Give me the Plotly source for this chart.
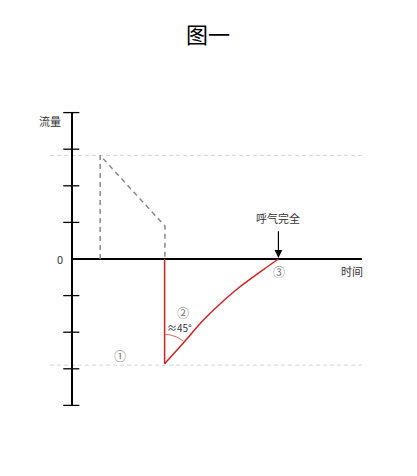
import numpy as np
import plotly.graph_objects as go

# chart values (flow vs time, arbitrary units)
y_ticks = [-4, -3, -2, -1, 1, 2, 3, 4]
x_axis_end = 7.92

# inspiration (grey dashed)
insp_x = [0.77, 0.77, 2.54, 2.54]
insp_y = [0, 2.83, 0.9, 0]

# expiration (red): drop to peak, then decay back to zero
exp_drop_x = [2.53, 2.53]
exp_drop_y = [0, -2.86]
exp_x = [2.53, 3.09, 3.54, 4.00, 4.54, 5.16, 5.64]
exp_y = [-2.86, -2.24, -1.72, -1.27, -0.80, -0.34, 0]

peak_in = 2.83
peak_out = -2.9

# page has an 8px body margin, so the figure is 16px smaller than the window
s = 36.6
W, H = 401, 460
x0_px, y0_px = 64, 251

fig = go.Figure()

# light guide lines at the peaks
for yv in [peak_in, peak_out]:
    fig.add_trace(go.Scatter(x=[-0.6, x_axis_end], y=[yv, yv], mode="lines",
                             line=dict(color="#d3d3d3", width=1, dash="4px,3px"),
                             hoverinfo="skip"))

# axes
fig.add_trace(go.Scatter(x=[0, 0], y=[-4, 4], mode="lines",
                         line=dict(color="black", width=2), hoverinfo="skip"))
for t in y_ticks:
    fig.add_trace(go.Scatter(x=[-0.24, 0.2], y=[t, t], mode="lines",
                             line=dict(color="black", width=1.3), hoverinfo="skip"))
fig.add_trace(go.Scatter(x=[0, x_axis_end], y=[0, 0], mode="lines",
                         line=dict(color="black", width=2), hoverinfo="skip"))

# inspiration dashed
fig.add_trace(go.Scatter(x=insp_x, y=insp_y, mode="lines",
                         line=dict(color="#888888", width=1.5, dash="5px,4px"),
                         hoverinfo="skip"))

# expiration red
fig.add_trace(go.Scatter(x=exp_drop_x, y=exp_drop_y, mode="lines",
                         line=dict(color="#d42020", width=1.5), hoverinfo="skip"))
fig.add_trace(go.Scatter(x=exp_x, y=exp_y, mode="lines",
                         line=dict(color="#d42020", width=1.5, shape="spline", smoothing=1),
                         hoverinfo="skip"))

# ~45 degree arc at the expiration peak
ang = np.radians(np.linspace(50, 90, 20))
r = 0.8
fig.add_trace(go.Scatter(x=exp_x[0] + r * np.cos(ang), y=exp_y[0] + r * np.sin(ang),
                         mode="lines", line=dict(color="#e06060", width=1),
                         hoverinfo="skip"))

font = "Noto Sans CJK SC, Noto Sans, sans-serif"
labels = [
    ("流量", -0.6, 3.77, 11, "#333"),
    ("0", -0.32, 0, 11, "#333"),
    ("呼气完全", 5.63, 1.12, 11, "#333"),
    ("时间", 7.65, -0.33, 11, "#333"),
    ("③", 5.66, -0.33, 12, "#777"),
    ("②", 3.03, -1.45, 12, "#777"),
    ("≈45°", 2.95, -1.86, 10, "#333"),
    ("①", 1.31, -2.65, 12, "#777"),
]
for txt, x, y, sz, c in labels:
    fig.add_annotation(x=x, y=y, text=txt, showarrow=False,
                       font=dict(family=font, size=sz, color=c))

# arrow pointing to end of expiration
fig.add_annotation(x=exp_x[-1], y=0.03, ax=exp_x[-1], ay=0.8, axref="x", ayref="y",
                   text="", showarrow=True, arrowhead=2, arrowsize=1.3,
                   arrowwidth=1.2, arrowcolor="black")

fig.add_annotation(x=(207.5 - 8) / W, y=1 - (33 - 8) / H, xref="paper", yref="paper",
                   xanchor="center", yanchor="middle",
                   text="图一", showarrow=False,
                   font=dict(family=font, size=22, color="black"))

fig.update_layout(
    width=W, height=H,
    margin=dict(l=0, r=0, t=0, b=0),
    showlegend=False,
    plot_bgcolor="white", paper_bgcolor="white",
    xaxis=dict(range=[-x0_px / s, (W - x0_px) / s], visible=False, fixedrange=True),
    yaxis=dict(range=[-(H - y0_px) / s, y0_px / s], visible=False, fixedrange=True),
)

fig.write_html("out.html")
